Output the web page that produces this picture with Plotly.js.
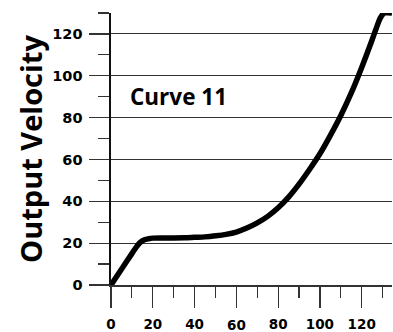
<!DOCTYPE html>
<html>
<head>
<meta charset="utf-8">
<script src="https://cdn.plot.ly/plotly-3.0.1.min.js"></script>
<style>html,body{margin:0;padding:0;background:#fff;}#chart{width:393px;height:332px;}</style>
</head>
<body>
<div id="chart"></div>
<script>
var inputVelocity = [0, 5, 10, 12, 14, 16, 18, 20, 25, 30, 35, 40, 45, 50, 55, 60, 65, 70, 75, 80, 85, 90, 95, 100, 105, 110, 115, 120, 125, 126, 127, 128, 129, 130, 131, 134.5];
var outputVelocity = [0, 7.5, 15, 18, 20.4, 21.6, 22.1, 22.4, 22.5, 22.5, 22.6, 22.8, 23, 23.5, 24.2, 25.3, 27.2, 29.7, 32.8, 36.9, 42, 48.2, 55.2, 62.7, 71.5, 81, 91.8, 104, 117.2, 120, 122.8, 125.5, 127.8, 129.3, 130, 130];
var xTickVals = [0, 20, 40, 60, 80, 100, 120];
var xTickText = ["0", "20", "40", "", "80", "100", "120"];
var yTickVals = [0, 20, 40, 60, 80, 100, 120];
var curveLabel = "Curve 11";
var yTitle = "Output Velocity";

var TITLEFONT = "Open Sans, Noto Sans, sans-serif";
var TICKFONT = "DejaVu Sans, sans-serif";

var trace = {
  x: inputVelocity,
  y: outputVelocity,
  type: "scatter",
  mode: "lines",
  line: {color: "#000", width: 5.5, shape: "spline", smoothing: 1},
  cliponaxis: false,
  hoverinfo: "none"
};

var layout = {
  width: 393, height: 332,
  margin: {l: 111, r: 1, t: 13, b: 47, pad: 0},
  paper_bgcolor: "#fff", plot_bgcolor: "#fff",
  showlegend: false,
  font: {family: TICKFONT, color: "#000"},
  xaxis: {
    range: [0, 134.5], fixedrange: true,
    tickmode: "array", tickvals: xTickVals, ticktext: xTickText,
    ticks: "outside", ticklen: 21, tickwidth: 1.2, tickcolor: "#333",
    ticklabelstandoff: 5,
    tickfont: {family: TICKFONT, size: 13.5, color: "#000", weight: "bold"},
    showgrid: false, zeroline: false,
    showline: true, linecolor: "#333", linewidth: 1.6,
    minor: {dtick: 10, tick0: 0, ticks: "outside", ticklen: 11, tickwidth: 1.2, tickcolor: "#333", showgrid: false}
  },
  yaxis: {
    range: [0, 130], fixedrange: true,
    tickmode: "array", tickvals: yTickVals,
    ticks: "outside", ticklen: 20, tickwidth: 1.2, tickcolor: "#333",
    ticklabelstandoff: 4,
    tickfont: {family: TICKFONT, size: 14.5, color: "#000", weight: "bold"},
    showgrid: true, gridcolor: "#333", gridwidth: 1.1,
    zeroline: false,
    showline: true, linecolor: "#111", linewidth: 1.6,
    minor: {dtick: 10, tick0: 0, ticks: "outside", ticklen: 11, tickwidth: 1.2, tickcolor: "#333", showgrid: false},
    title: {text: yTitle, font: {family: TITLEFONT, size: 29, color: "#000", weight: "bold"}, standoff: 1}
  },
  annotations: [
    {x: 32.3, y: 90.1, xref: "x", yref: "y", text: curveLabel, showarrow: false,
     font: {family: TITLEFONT, size: 22.5, color: "#000", weight: "bold"}, xanchor: "center", yanchor: "middle"},
    {x: 60, y: 0, xref: "x", yref: "paper", text: "60", showarrow: false,
     font: {family: TICKFONT, size: 13.5, color: "#000", weight: "bold"}, xanchor: "center", yanchor: "middle", yshift: -40}
  ]
};

Plotly.newPlot("chart", [trace], layout, {displayModeBar: false, staticPlot: true});
</script>
</body>
</html>
